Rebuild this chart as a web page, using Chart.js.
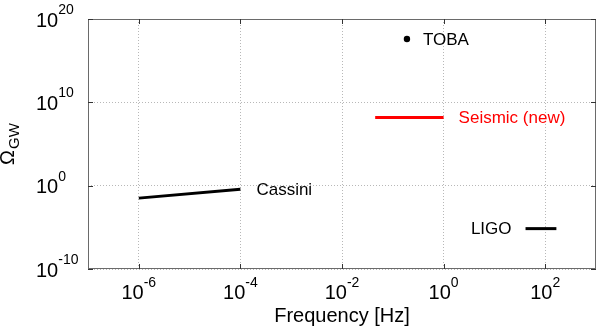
<!DOCTYPE html>
<html>
<head>
<meta charset="utf-8">
<script src="https://cdn.jsdelivr.net/npm/chart.js@4"></script>
<style>
  html, body { margin: 0; padding: 0; background: #fff; }
  #wrap { width: 600px; height: 329px; }
</style>
</head>
<body>
<div id="wrap"><canvas id="chart"></canvas></div>
<script>
/* ===============================
   DATA
   =============================== */
const xTickExp = [-6, -4, -2, 0, 2];
const yTickExp = [-10, 0, 10, 20];
const xRange = [1e-7, 1e3];
const yRange = [1e-10, 1e20];

const cassiniFreq = [1e-6, 1e-4];
const cassiniOmega = [0.032, 0.38];

const seismicFreq = [0.045, 1];
const seismicOmega = [1.5e8, 1.5e8];

const ligoFreq = [41, 166];
const ligoOmega = [7e-6, 7e-6];

const tobaFreq = [0.19];
const tobaOmega = [4e17];

const FONT = "'Liberation Sans', Arial, sans-serif";

function pts(xs, ys) {
    return xs.map((x, i) => ({ x: x, y: ys[i] }));
}

/* ===============================
   PLUGIN: frame, tick labels, annotations
   =============================== */
const decorPlugin = {
    id: "decor",
    afterDraw(chart) {
        const ctx = chart.ctx;
        const a = chart.chartArea;
        const xs = chart.scales.x;
        const ys = chart.scales.y;
        ctx.save();

        // box + inner tick marks
        ctx.strokeStyle = "#6a6a6a";
        ctx.lineWidth = 1;
        ctx.strokeRect(a.left + 0.5, a.top + 0.5, a.right - a.left - 1, a.bottom - a.top - 1);
        ctx.strokeStyle = "#333";
        xTickExp.forEach(e => {
            const px = Math.round(xs.getPixelForValue(Math.pow(10, e))) + 0.5;
            ctx.beginPath();
            ctx.moveTo(px, a.bottom); ctx.lineTo(px, a.bottom - 5);
            ctx.moveTo(px, a.top); ctx.lineTo(px, a.top + 5);
            ctx.stroke();
        });
        yTickExp.forEach(e => {
            const py = Math.round(ys.getPixelForValue(Math.pow(10, e))) + 0.5;
            ctx.beginPath();
            ctx.moveTo(a.left, py); ctx.lineTo(a.left + 5, py);
            ctx.moveTo(a.right, py); ctx.lineTo(a.right - 5, py);
            ctx.stroke();
        });

        // x tick labels
        ctx.fillStyle = "#000";
        ctx.textBaseline = "alphabetic";
        ctx.textAlign = "left";
        xTickExp.forEach(e => {
            const px = xs.getPixelForValue(Math.pow(10, e));
            ctx.font = "20px " + FONT;
            const w1 = ctx.measureText("10").width;
            ctx.font = "14px " + FONT;
            const w2 = ctx.measureText(String(e)).width;
            const x0 = px - (w1 + w2) / 2;
            ctx.font = "20px " + FONT;
            ctx.fillText("10", x0, a.bottom + 30);
            ctx.font = "14px " + FONT;
            ctx.fillText(String(e), x0 + w1, a.bottom + 18);
        });

        // y tick labels
        yTickExp.forEach(e => {
            const py = ys.getPixelForValue(Math.pow(10, e));
            ctx.font = "20px " + FONT;
            const w1 = ctx.measureText("10").width;
            ctx.fillText("10", 36, py + 7.5);
            ctx.font = "14px " + FONT;
            ctx.fillText(String(e), 36 + w1, py - 5);
        });

        // x title
        ctx.font = "20px " + FONT;
        ctx.textAlign = "center";
        ctx.fillText("Frequency [Hz]", (a.left + a.right) / 2, 322);

        // y title: Omega_GW rotated
        ctx.save();
        ctx.translate(14, 144.5);
        ctx.rotate(-Math.PI / 2);
        ctx.textAlign = "left";
        ctx.font = "20px " + FONT;
        const wO = ctx.measureText("\u03A9").width;
        ctx.font = "15px " + FONT;
        const wG = ctx.measureText("GW").width;
        const s = -(wO + wG) / 2;
        ctx.font = "20px " + FONT;
        ctx.fillText("\u03A9", s, 0);
        ctx.font = "15px " + FONT;
        ctx.fillText("GW", s + wO + 1, 5);
        ctx.restore();

        // annotations next to each curve
        ctx.font = "17px " + FONT;
        ctx.textBaseline = "middle";
        const c = chart.getDatasetMeta(0).data;
        const sm = chart.getDatasetMeta(1).data;
        const lg = chart.getDatasetMeta(2).data;
        const tb = chart.getDatasetMeta(3).data;
        ctx.textAlign = "left";
        ctx.fillStyle = "#000";
        ctx.fillText("Cassini", c[1].x + 16, c[1].y + 1);
        ctx.fillText("TOBA", tb[0].x + 16, tb[0].y + 1);
        ctx.fillStyle = "#ff0000";
        ctx.fillText("Seismic (new)", sm[1].x + 15, sm[1].y + 1);
        ctx.fillStyle = "#000";
        ctx.textAlign = "right";
        ctx.fillText("LIGO", lg[0].x - 14, lg[0].y + 1);

        ctx.restore();
    }
};

/* ===============================
   CHART
   =============================== */
const lineStyle = {
    showLine: true,
    borderWidth: 3,
    pointRadius: 0,
    fill: false
};

const chart = new Chart(document.getElementById("chart"), {
    type: "scatter",
    data: {
        datasets: [
            Object.assign({ label: "Cassini", data: pts(cassiniFreq, cassiniOmega), borderColor: "#000" }, lineStyle),
            Object.assign({ label: "Seismic (new)", data: pts(seismicFreq, seismicOmega), borderColor: "#ff0000" }, lineStyle),
            Object.assign({ label: "LIGO", data: pts(ligoFreq, ligoOmega), borderColor: "#000" }, lineStyle),
            {
                label: "TOBA",
                data: pts(tobaFreq, tobaOmega),
                pointRadius: 3.2,
                backgroundColor: "#000",
                borderColor: "#000",
                borderWidth: 0
            }
        ]
    },
    options: {
        responsive: true,
        maintainAspectRatio: false,
        animation: false,
        layout: { padding: { left: 88, top: 19, right: 2, bottom: 60 } },
        plugins: {
            legend: { display: false },
            tooltip: { enabled: false }
        },
        scales: {
            x: {
                type: "logarithmic",
                min: xRange[0],
                max: xRange[1],
                afterBuildTicks: s => { s.ticks = xTickExp.map(e => ({ value: Math.pow(10, e) })); },
                ticks: { display: false },
                grid: { color: "#b8b8b8", drawTicks: false, lineWidth: 1 },
                border: { display: false, dash: [1, 2] }
            },
            y: {
                type: "logarithmic",
                min: yRange[0],
                max: yRange[1],
                afterBuildTicks: s => { s.ticks = yTickExp.map(e => ({ value: Math.pow(10, e) })); },
                ticks: { display: false },
                grid: { color: "#b8b8b8", drawTicks: false, lineWidth: 1 },
                border: { display: false, dash: [1, 2] }
            }
        }
    },
    plugins: [decorPlugin]
});
</script>
</body>
</html>
